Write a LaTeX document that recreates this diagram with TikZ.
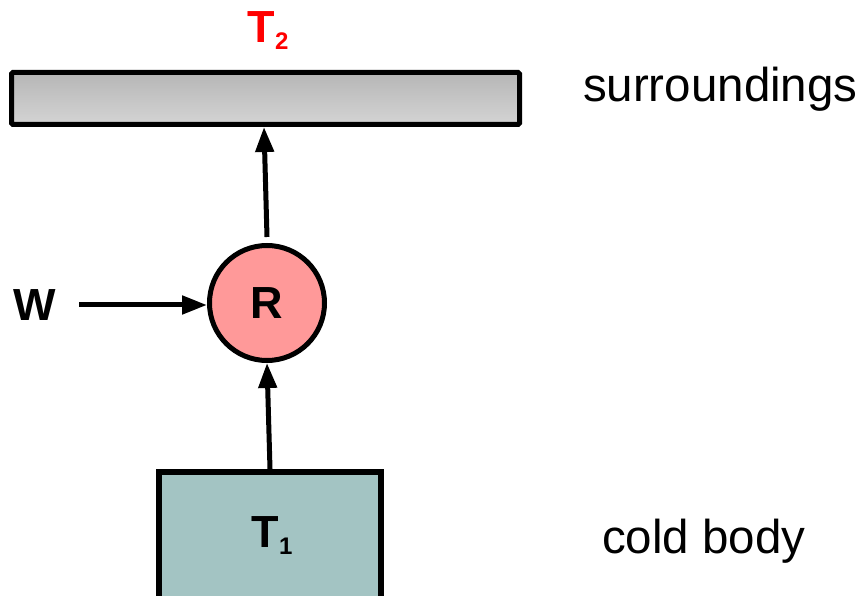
\documentclass[tikz,border=0pt]{standalone}
\usepackage{fontspec}
\setmainfont{Liberation Sans}
\usetikzlibrary{arrows.meta}
\definecolor{barTop}{HTML}{B6B6B6}
\definecolor{barBot}{HTML}{D4D4D4}
\definecolor{rfill}{HTML}{FF9999}
\definecolor{boxfill}{HTML}{A3C4C3}
\definecolor{tred}{HTML}{FF0000}
\tikzset{
  arr/.style={line width=5pt,-{Triangle[length=25pt,width=18pt]}},
  big/.style={font=\fontsize{47.5}{52}\selectfont},
  bold/.style={font=\fontsize{45}{50}\selectfont\bfseries},
  lbl/.style={inner sep=0pt,outer sep=0pt}
}
\newcommand{\subx}[1]{\raisebox{-7pt}{\fontsize{24}{26}\selectfont\bfseries #1}}
\begin{document}
\begin{tikzpicture}[x=1pt,y=-1pt]
\useasboundingbox (0,0) rectangle (863,596);
\clip (0,0) rectangle (863,596);
% surroundings bar
\node[draw=black,line width=5pt,rounded corners=1.5pt,top color=barTop,bottom color=barBot,
  minimum width=508pt,minimum height=52pt,inner sep=0pt] (bar) at (265.5,98.5) {};
% T2 label
\node[lbl,anchor=base,text=tred,bold] (t2) at (268,43) {T\subx{2}};
% R circle
\node[circle,draw=black,line width=5pt,fill=rfill,minimum size=115pt,inner sep=0pt,bold] (R) at (267,303) {R};
% cold body box
\node[draw=black,line width=5.5pt,fill=boxfill,minimum width=222pt,minimum height=160pt,inner sep=0pt,anchor=north] (cold) at (270,469) {};
\node[lbl,anchor=base,bold] (t1) at (272,547) {T\subx{1}};
% W
\node[lbl,anchor=west,bold] (W) at (13,305) {W};
% texts
\node[lbl,anchor=base west,big] (sur) at (583,102) {surroundings};
\node[lbl,anchor=base west,big] (cb) at (602,553) {cold body};
% arrows
\draw[arr] ([xshift=24pt]W.east) -- (R.west |- W.east);
\draw[arr] ([yshift=6pt]R.north) -- ([xshift=-1.5pt]bar.south);
\draw[arr] (cold.north) -- (R.south);
\end{tikzpicture}
\end{document}
